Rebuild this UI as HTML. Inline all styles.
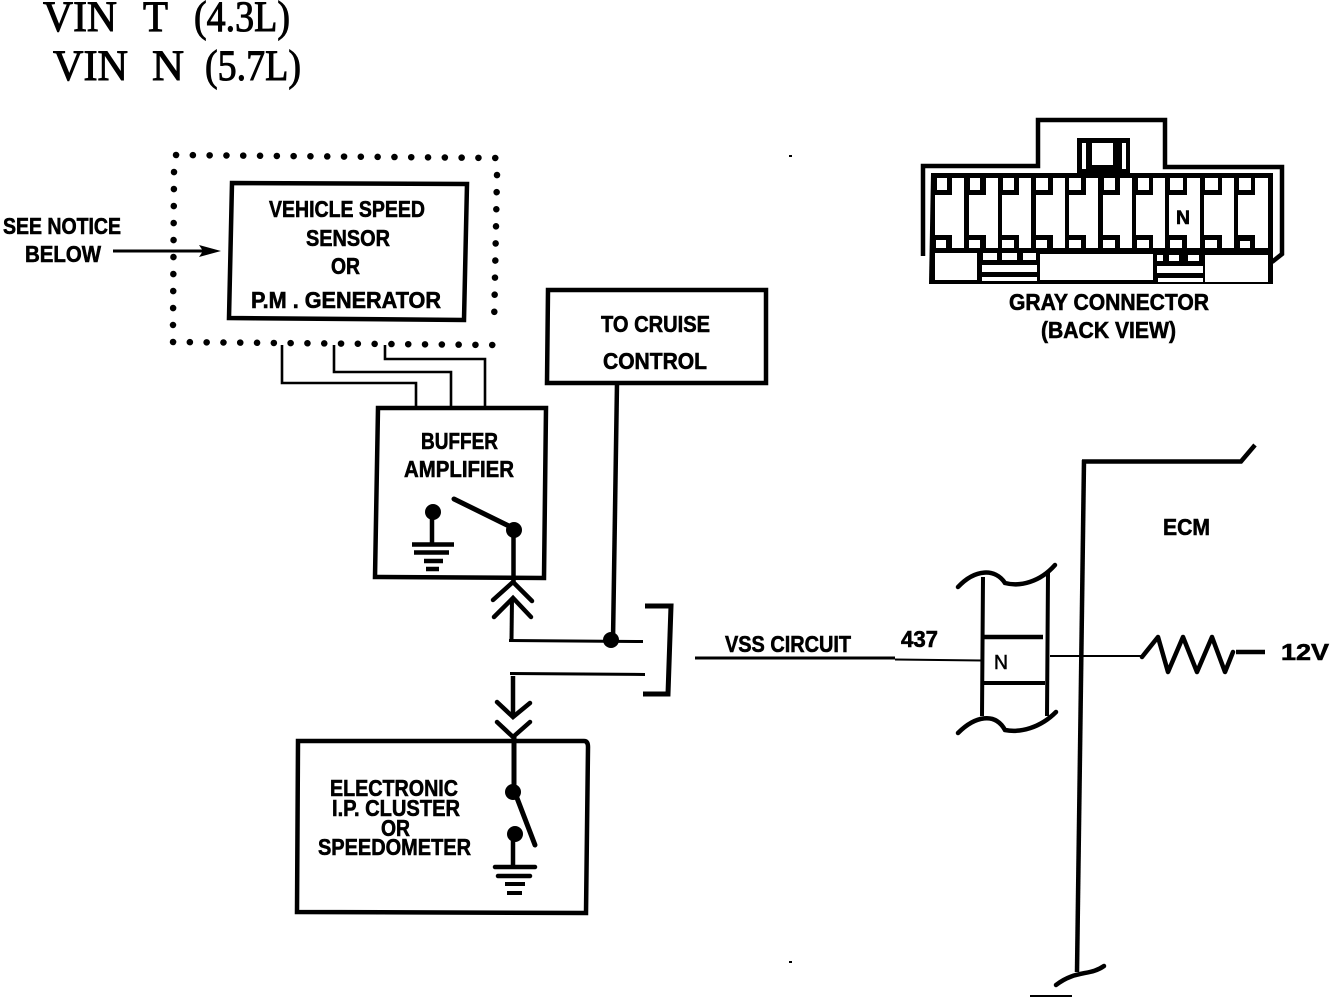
<!DOCTYPE html>
<html>
<head>
<meta charset="utf-8">
<style>
html,body{margin:0;padding:0;background:#fff}
svg{display:block}
.s{font-family:"Liberation Sans",sans-serif;font-weight:bold;font-size:23px;fill:#000;stroke:#000;stroke-width:.6}
.t{font-family:"Liberation Serif",serif;font-size:43px;fill:#000;stroke:#000;stroke-width:1}
.l{fill:none;stroke:#000}
.c{fill:#fff}
</style>
</head>
<body>
<svg width="1344" height="998" viewBox="0 0 1344 998" xmlns="http://www.w3.org/2000/svg">
<rect width="1344" height="998" fill="#fff"/>

<text class="t" x="43" y="31" textLength="74" lengthAdjust="spacingAndGlyphs">VIN</text>
<text class="t" x="143" y="31" textLength="25" lengthAdjust="spacingAndGlyphs">T</text>
<text class="t" x="194" y="31" textLength="96" lengthAdjust="spacingAndGlyphs">(4.3L)</text>
<text class="t" x="53" y="80" textLength="75" lengthAdjust="spacingAndGlyphs">VIN</text>
<text class="t" x="152" y="80" textLength="32" lengthAdjust="spacingAndGlyphs">N</text>
<text class="t" x="205" y="80" textLength="96" lengthAdjust="spacingAndGlyphs">(5.7L)</text>

<!-- dotted sensor enclosure -->
<g fill="none" stroke="#000" stroke-width="6.5" stroke-linecap="round">
<path d="M176 155L497 158" stroke-dasharray="0.1 16.7"/>
<path d="M173 342L494 345" stroke-dasharray="0.1 16.7"/>
<path d="M174 172L173 325" stroke-dasharray="0.1 16.9"/>
<path d="M497 175L494 328" stroke-dasharray="0.1 17"/>
</g>

<!-- vehicle speed sensor -->
<path class="l" stroke-width="4.5" d="M232 183L467 184L464 320L229 318Z"/>
<text class="s" x="269" y="217" textLength="156" lengthAdjust="spacingAndGlyphs">VEHICLE SPEED</text>
<text class="s" x="306" y="246" textLength="84" lengthAdjust="spacingAndGlyphs">SENSOR</text>
<text class="s" x="331" y="274" textLength="29" lengthAdjust="spacingAndGlyphs">OR</text>
<text class="s" x="251" y="308" textLength="190" lengthAdjust="spacingAndGlyphs">P.M . GENERATOR</text>

<text class="s" x="3" y="234" textLength="118" lengthAdjust="spacingAndGlyphs">SEE NOTICE</text>
<text class="s" x="25" y="262" textLength="76" lengthAdjust="spacingAndGlyphs">BELOW</text>
<path class="l" stroke-width="3" d="M113 251H205"/>
<path d="M199 245L221 251L199 257L203 251Z" fill="#000"/>

<!-- sensor to amp wires -->
<g fill="none" stroke="#000" stroke-width="2.6">
<path d="M282 345V383H416V408"/>
<path d="M334 345V372H451V408"/>
<path d="M385 345V359H485V408"/>
</g>

<!-- cruise -->
<path class="l" stroke-width="4.5" d="M548 290H766V383H547Z"/>
<text class="s" x="601" y="332" textLength="109" lengthAdjust="spacingAndGlyphs">TO CRUISE</text>
<text class="s" x="603" y="369" textLength="104" lengthAdjust="spacingAndGlyphs">CONTROL</text>
<path class="l" stroke-width="4.5" d="M617 383L613 640"/>

<!-- buffer amplifier -->
<path class="l" stroke-width="4.5" d="M378 408H546L544 578L375 577Z"/>
<text class="s" x="421" y="449" textLength="77" lengthAdjust="spacingAndGlyphs">BUFFER</text>
<text class="s" x="404" y="477" textLength="110" lengthAdjust="spacingAndGlyphs">AMPLIFIER</text>
<circle cx="433" cy="512" r="8"/>
<path class="l" stroke-width="4.5" d="M432 512V544"/>
<path class="l" stroke-width="4.5" d="M412 544.500H454M414 552.500H449"/>
<path class="l" stroke-width="4.500" d="M424 561H443M426 569H439"/>
<path class="l" stroke-width="5" stroke-linecap="round" d="M454 499L513 528"/>
<circle cx="514" cy="530" r="8"/>
<path class="l" stroke-width="4.5" d="M513.500 530V582"/>

<!-- chevrons -->
<g fill="none" stroke="#000" stroke-width="4.5" stroke-linecap="round">
<path d="M493 600L513 582L532 601"/>
<path d="M494 617L513 598L531 617"/>
<path d="M497 702L513 717L530 703"/>
<path d="M497 722L513 737L530 722"/>
</g>
<path class="l" stroke-width="4" d="M512 598L511.500 640"/>
<path class="l" stroke-width="3" d="M509 640.500L643 641.500"/>
<circle cx="611" cy="640" r="8"/>

<!-- splice bracket -->
<path class="l" stroke-width="5" d="M645 606H671L668 694H643"/>
<path class="l" stroke-width="3" d="M510 673.500L645 674.500"/>
<path class="l" stroke-width="4.5" d="M513 676V717"/>

<!-- cluster -->
<path class="l" stroke-width="4.5" d="M298 741H584Q588 741 588 747L586 913L297 912Z"/>
<path class="l" stroke-width="5" d="M514 737V787"/>
<circle cx="513" cy="792" r="8"/>
<path class="l" stroke-width="5" stroke-linecap="round" d="M517 798L535 845"/>
<circle cx="515" cy="834" r="8"/>
<path class="l" stroke-width="4.500" d="M513 834V867"/>
<path class="l" stroke-width="4.500" stroke-linecap="round" d="M495 867H535M498 876H530"/>
<path class="l" stroke-width="4" d="M505 884H525M507 893H522"/>
<text class="s" x="330" y="796" textLength="128" lengthAdjust="spacingAndGlyphs">ELECTRONIC</text>
<text class="s" x="332" y="816" textLength="128" lengthAdjust="spacingAndGlyphs">I.P. CLUSTER</text>
<text class="s" x="381" y="836" textLength="29" lengthAdjust="spacingAndGlyphs">OR</text>
<text class="s" x="318" y="855" textLength="153" lengthAdjust="spacingAndGlyphs">SPEEDOMETER</text>

<!-- VSS circuit -->
<path class="l" stroke-width="3" d="M695 658L895 658"/>
<path class="l" stroke-width="2" d="M895 659.500L982 660.500"/>
<text class="s" x="725" y="652" textLength="126" lengthAdjust="spacingAndGlyphs">VSS CIRCUIT</text>
<text class="s" x="901" y="647" textLength="37" lengthAdjust="spacingAndGlyphs">437</text>

<!-- inline connector -->
<path class="l" stroke-width="4" d="M983 577L982 716M1048 573L1047 716"/>
<path class="l" stroke-width="4.500" d="M983 637H1043"/>
<path class="l" stroke-width="4" d="M983 683H1045"/>
<path class="l" stroke-width="4.500" stroke-linecap="round" d="M958 587C975 569 995 568 1005 583C1020 587 1040 582 1055 565"/>
<path class="l" stroke-width="4.500" stroke-linecap="round" d="M958 733C975 716 995 712 1005 730C1020 733 1040 728 1056 712"/>
<text class="s" x="994" y="669" textLength="14" lengthAdjust="spacingAndGlyphs" style="font-weight:normal;font-size:20px">N</text>
<path class="l" stroke-width="2" d="M1050 656H1141"/>

<!-- ECM -->
<path class="l" stroke-width="4.500" d="M1084 460L1077 972"/>
<path class="l" stroke-width="4.500" d="M1082 461.500H1241L1255 445"/>
<path class="l" stroke-width="4.500" stroke-linecap="round" d="M1056 985C1075 970 1090 976 1104 966"/>
<path class="l" stroke-width="2" d="M1030 996H1072"/>
<text class="s" x="1163" y="535" textLength="47" lengthAdjust="spacingAndGlyphs">ECM</text>
<path class="l" stroke-width="4.500" stroke-linecap="round" stroke-linejoin="round" d="M1142 657L1158 637L1168 672L1183 637L1197 672L1212 637L1225 672L1233 652"/>
<path class="l" stroke-width="4.500" d="M1236 652H1265"/>
<text class="s" x="1281" y="660" textLength="48" lengthAdjust="spacingAndGlyphs">12V</text>

<!-- gray connector -->
<path class="l" stroke-width="4.500" d="M923 256V166H1038V120H1165V167H1282V254L1272 262"/>
<path d="M931 173H1273V284H929Z" fill="#000"/>
<rect x="1077" y="138" width="53" height="36" fill="#000"/>
<rect x="1082" y="143" width="4" height="26" class="c"/>
<rect x="1122" y="143" width="4" height="26" class="c"/>
<rect x="1092" y="143" width="21" height="22" class="c"/>
<g class="c">
<path d="M952 178H964V248H952V235H935V195H952Z"/>
<rect x="937" y="178" width="10" height="12"/><rect x="936" y="240" width="10" height="8"/>
<path d="M986 178H998V248H986V235H969V195H986Z"/>
<rect x="970" y="178" width="10" height="12"/><rect x="969" y="240" width="11" height="8"/>
<path d="M1019 178H1031V248H1019V235H1002V195H1019Z"/>
<rect x="1003" y="178" width="11" height="12"/><rect x="1002" y="240" width="12" height="8"/>
<path d="M1053 178H1065V248H1053V235H1036V195H1053Z"/>
<rect x="1036" y="178" width="12" height="12"/><rect x="1036" y="240" width="11" height="8"/>
<path d="M1086 178H1098V248H1086V235H1069V195H1086Z"/>
<rect x="1069" y="178" width="12" height="12"/><rect x="1069" y="240" width="12" height="8"/>
<path d="M1120 178H1132V248H1120V235H1103V195H1120Z"/>
<rect x="1104" y="178" width="11" height="12"/><rect x="1103" y="240" width="12" height="8"/>
<path d="M1153 178H1165V248H1153V235H1136V195H1153Z"/>
<rect x="1138" y="178" width="11" height="12"/><rect x="1137" y="240" width="12" height="8"/>
<path d="M1187 178H1200V248H1187V235H1169V195H1187Z"/>
<rect x="1170" y="178" width="13" height="12"/><rect x="1170" y="240" width="12" height="8"/>
<path d="M1222 178H1234V248H1222V235H1204V195H1222Z"/>
<rect x="1205" y="178" width="13" height="12"/><rect x="1205" y="240" width="12" height="8"/>
<path d="M1255 178H1268V248H1255V235H1238V195H1255Z"/>
<rect x="1239" y="178" width="12" height="12"/><rect x="1240" y="241" width="10" height="7"/>
<!-- lower blocks -->
<rect x="935" y="253" width="42" height="27"/>
<rect x="1040" y="254" width="113" height="26"/>
<rect x="1205" y="255" width="63" height="27"/>
<rect x="983" y="253" width="14" height="7"/><rect x="1002" y="253" width="15" height="7"/><rect x="1023" y="253" width="13" height="7"/>
<rect x="982" y="265" width="55" height="7"/><rect x="982" y="277" width="55" height="4"/>
<rect x="1157" y="255" width="6" height="6"/><rect x="1169" y="255" width="10" height="6"/><rect x="1188" y="255" width="11" height="6"/>
<rect x="1157" y="266" width="46" height="7"/><rect x="1158" y="278" width="45" height="4"/>
</g>
<text class="s" x="1176" y="224" textLength="14" lengthAdjust="spacingAndGlyphs" style="font-size:19px">N</text>
<text class="s" x="1009" y="310" textLength="200" lengthAdjust="spacingAndGlyphs">GRAY CONNECTOR</text>
<text class="s" x="1041" y="338" textLength="135" lengthAdjust="spacingAndGlyphs">(BACK VIEW)</text>

<rect x="789" y="155" width="3" height="2"/>
<rect x="789" y="961" width="3" height="2"/>
</svg>
</body>
</html>
